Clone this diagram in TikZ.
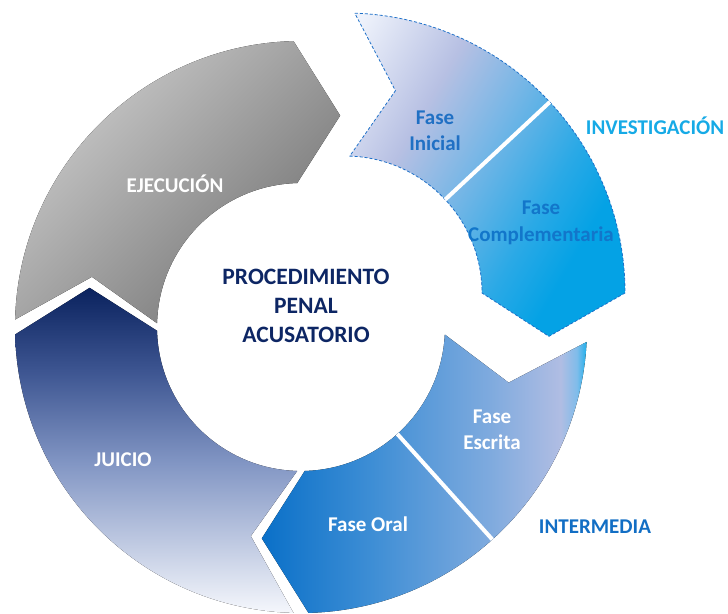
\documentclass[tikz,border=0pt]{standalone}
\usepackage{fontspec}
\setmainfont{Carlito}
\usepackage{tikz}

\definecolor{titleblue}{RGB}{13,38,100}
\definecolor{inicialtext}{RGB}{32,112,196}
\definecolor{compltext}{RGB}{18,118,202}
\definecolor{investtext}{RGB}{22,170,230}
\definecolor{intertext}{RGB}{18,110,196}
\definecolor{investline}{RGB}{30,112,200}
\definecolor{ejelight}{RGB}{204,204,204}
\definecolor{ejedark}{RGB}{115,115,115}
\definecolor{juiciotop}{RGB}{10,34,94}
\definecolor{juiciomid}{RGB}{62,86,146}
\definecolor{juiciolow}{RGB}{130,150,196}
\definecolor{juiciobot}{RGB}{245,247,252}
\definecolor{invA}{RGB}{238,242,251}
\definecolor{invB}{RGB}{183,192,227}
\definecolor{invC}{RGB}{117,182,230}
\definecolor{invD}{RGB}{42,169,230}
\definecolor{invE}{RGB}{4,162,229}
\definecolor{intA}{RGB}{10,112,200}
\definecolor{intB}{RGB}{62,142,213}
\definecolor{intC}{RGB}{126,170,222}
\definecolor{intD}{RGB}{176,189,227}
\definecolor{intE}{RGB}{127,188,234}
\definecolor{intF}{RGB}{31,176,236}

\pgfdeclareverticalshading{juiciofill}{100bp}{color(0bp)=(juiciobot); color(25bp)=(juiciobot); color(48bp)=(juiciolow); color(62bp)=(juiciomid); color(75bp)=(juiciotop); color(100bp)=(juiciotop)}
\pgfdeclarehorizontalshading{investfill}{100bp}{color(0bp)=(invA); color(18bp)=(invA); color(35bp)=(invB); color(47.5bp)=(invC); color(61bp)=(invD); color(70bp)=(invE); color(100bp)=(invE)}
\pgfdeclarehorizontalshading{interfill}{100bp}{color(0bp)=(intA); color(25bp)=(intA); color(42bp)=(intB); color(60bp)=(intC); color(71bp)=(intD); color(73.5bp)=(intE); color(75bp)=(intF); color(100bp)=(intF)}

% one arrow of the ring: start angle, end angle, outer radius, inner radius
\newcommand{\ringarrow}[4]{(#1:#3) arc[start angle=#1, end angle=#2, radius=#3pt] -- ({#2-12}:{(#3+#4)/2}) -- (#2:#4) arc[start angle=#2, end angle=#1, radius=#4pt] -- ({#1-12}:{(#3+#4)/2}) -- cycle}

\tikzset{
  seglabel/.style={text=white, font=\bfseries\fontsize{21}{26.5}\selectfont, align=center, inner sep=0pt},
  gapline/.style={white, line width=4pt},
  dashline/.style={draw=investline, line width=0.8pt, dash pattern=on 3pt off 2pt}
}

\begin{document}
\begin{tikzpicture}[x=1pt,y=1pt]
\useasboundingbox (0,0) rectangle (728,613);

% main ring
\begin{scope}[shift={(301,286)}]
\fill[left color=ejelight, right color=ejedark, shading angle=45] \ringarrow{178.5}{91.5}{286}{144};
\fill[shading=juiciofill] \ringarrow{268.5}{181.5}{286}{144};
\fill[shading=interfill] \ringarrow{357}{271.5}{286}{144};
\draw[gapline] (312:144) -- (312:286);
\end{scope}

% investigacion, pulled out of the ring
\begin{scope}[shift={(345,320)}]
\shade[shading=investfill, shading angle=-30] \ringarrow{88}{0}{280}{137};
\draw[dashline] \ringarrow{88}{0}{280}{137};
\draw[gapline] (43:137) -- (43:280);
\end{scope}

\node[seglabel] (ejecucion) at (175,429) {EJECUCIÓN};
\node[seglabel] (juicio) at (123,153) {JUICIO};
\node[seglabel] (escrita) at (492,183) {Fase\\Escrita};
\node[seglabel] (oral) at (368,89) {Fase Oral};
\node[seglabel, text=inicialtext] (inicial) at (435,482) {Fase\\Inicial};
\node[seglabel, text=compltext] (complementaria) at (541,390) {Fase\\Complementaria};
\node[seglabel, text=investtext] (investigacion) at (655,487) {INVESTIGACIÓN};
\node[seglabel, text=intertext] (intermedia) at (595,86) {INTERMEDIA};
\node[seglabel, text=titleblue, font=\bfseries\fontsize{23.5}{29}\selectfont] (titulo) at (306,307) {PROCEDIMIENTO\\PENAL\\ACUSATORIO};
\end{tikzpicture}
\end{document}
